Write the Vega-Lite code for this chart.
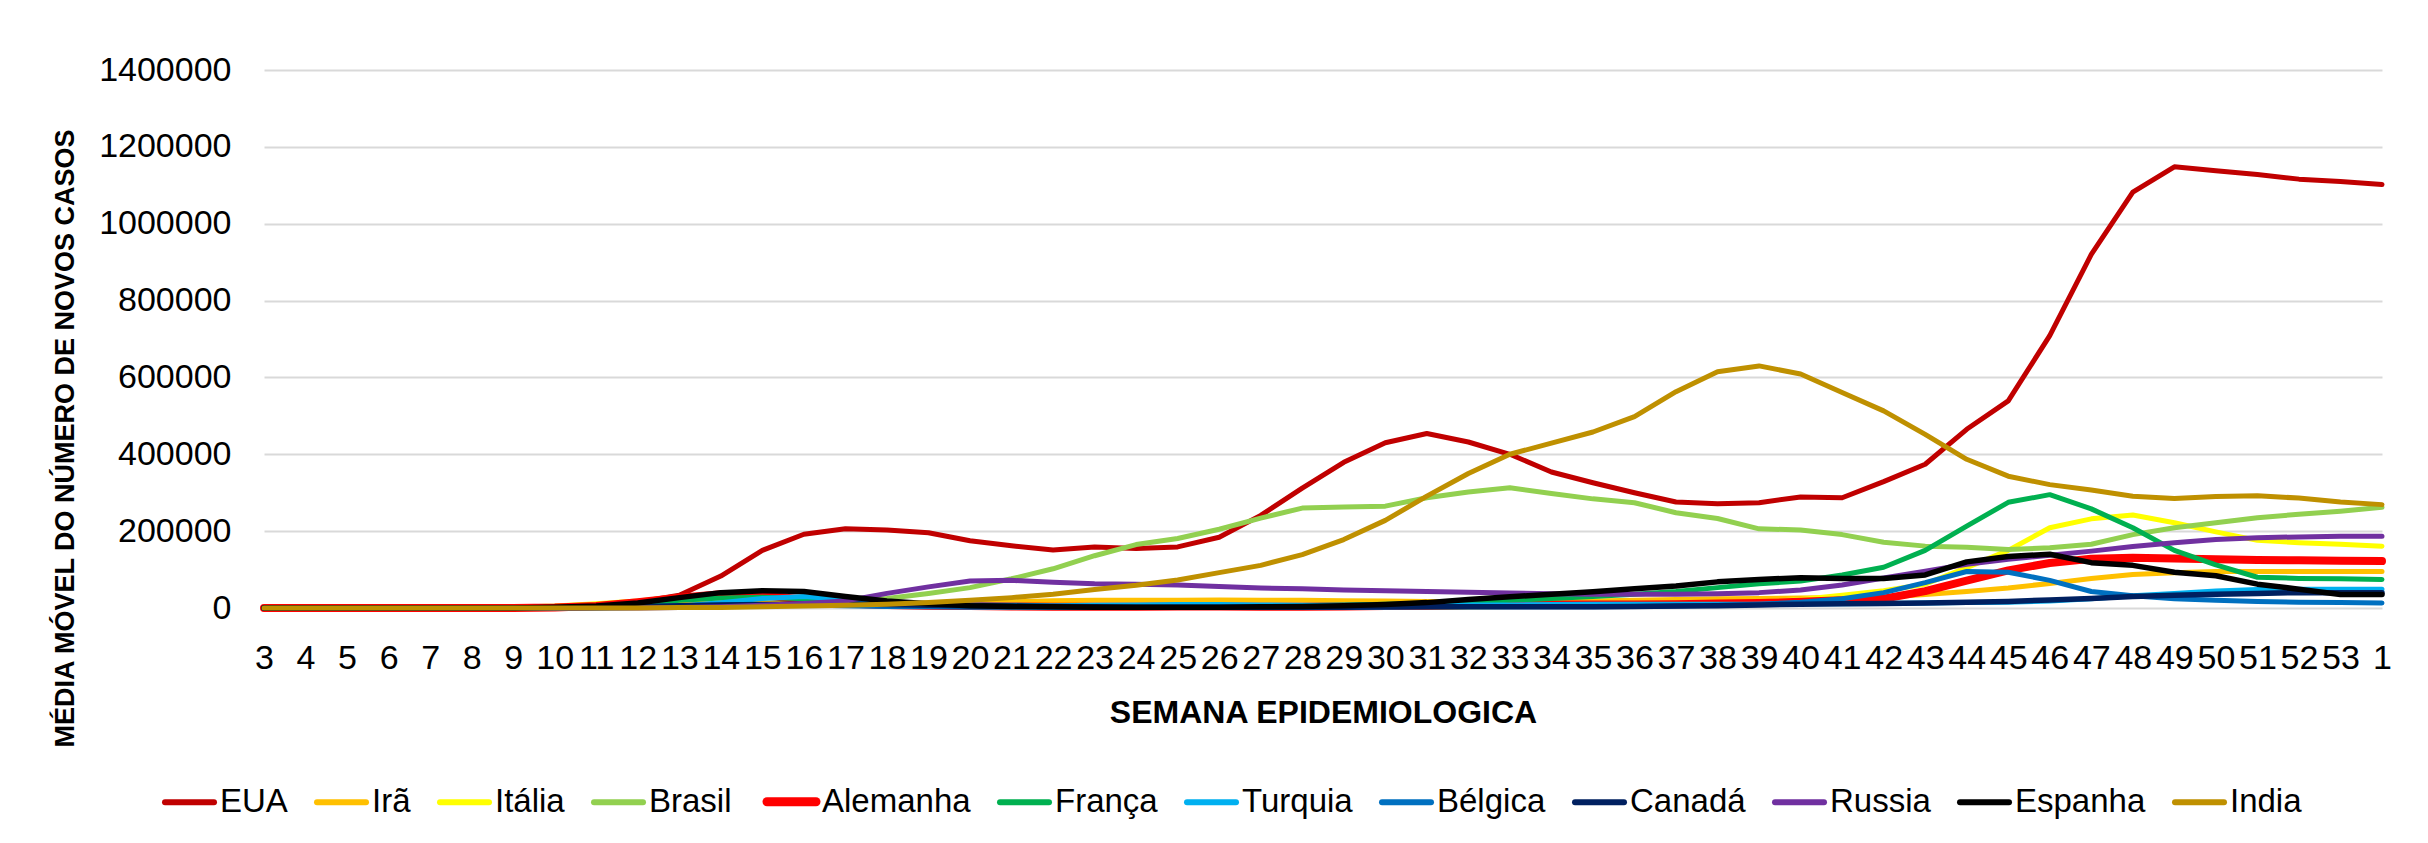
{
"$schema": "https://vega.github.io/schema/vega-lite/v6.json",
"width": 2118, "height": 538,
"autosize": {"type": "none"},
"padding": {"left": 264, "top": 70, "right": 46, "bottom": 235},
"background": "white",
"config": {"view": {"stroke": null}, "font": "Liberation Sans"},
"data": {"values": [
{"semana":"3","pais":"EUA","casos":0},{"semana":"4","pais":"EUA","casos":0},{"semana":"5","pais":"EUA","casos":0},{"semana":"6","pais":"EUA","casos":0},{"semana":"7","pais":"EUA","casos":0},{"semana":"8","pais":"EUA","casos":0},{"semana":"9","pais":"EUA","casos":0},{"semana":"10","pais":"EUA","casos":1000},{"semana":"11","pais":"EUA","casos":5000},{"semana":"12","pais":"EUA","casos":15000},{"semana":"13","pais":"EUA","casos":33000},{"semana":"14","pais":"EUA","casos":83000},{"semana":"15","pais":"EUA","casos":150000},{"semana":"16","pais":"EUA","casos":192000},{"semana":"17","pais":"EUA","casos":206000},{"semana":"18","pais":"EUA","casos":203000},{"semana":"19","pais":"EUA","casos":196000},{"semana":"20","pais":"EUA","casos":175000},{"semana":"21","pais":"EUA","casos":162000},{"semana":"22","pais":"EUA","casos":151000},{"semana":"23","pais":"EUA","casos":159000},{"semana":"24","pais":"EUA","casos":155000},{"semana":"25","pais":"EUA","casos":159000},{"semana":"26","pais":"EUA","casos":184000},{"semana":"27","pais":"EUA","casos":241000},{"semana":"28","pais":"EUA","casos":312000},{"semana":"29","pais":"EUA","casos":379000},{"semana":"30","pais":"EUA","casos":430000},{"semana":"31","pais":"EUA","casos":454000},{"semana":"32","pais":"EUA","casos":432000},{"semana":"33","pais":"EUA","casos":400000},{"semana":"34","pais":"EUA","casos":354000},{"semana":"35","pais":"EUA","casos":326000},{"semana":"36","pais":"EUA","casos":300000},{"semana":"37","pais":"EUA","casos":276000},{"semana":"38","pais":"EUA","casos":271000},{"semana":"39","pais":"EUA","casos":274000},{"semana":"40","pais":"EUA","casos":289000},{"semana":"41","pais":"EUA","casos":287000},{"semana":"42","pais":"EUA","casos":329000},{"semana":"43","pais":"EUA","casos":374000},{"semana":"44","pais":"EUA","casos":465000},{"semana":"45","pais":"EUA","casos":539000},{"semana":"46","pais":"EUA","casos":709000},{"semana":"47","pais":"EUA","casos":920000},{"semana":"48","pais":"EUA","casos":1082000},{"semana":"49","pais":"EUA","casos":1148000},{"semana":"50","pais":"EUA","casos":1138000},{"semana":"51","pais":"EUA","casos":1128000},{"semana":"52","pais":"EUA","casos":1116000},{"semana":"53","pais":"EUA","casos":1110000},{"semana":"1","pais":"EUA","casos":1102000},
{"semana":"3","pais":"Irã","casos":0},{"semana":"4","pais":"Irã","casos":0},{"semana":"5","pais":"Irã","casos":0},{"semana":"6","pais":"Irã","casos":0},{"semana":"7","pais":"Irã","casos":0},{"semana":"8","pais":"Irã","casos":0},{"semana":"9","pais":"Irã","casos":1000},{"semana":"10","pais":"Irã","casos":3000},{"semana":"11","pais":"Irã","casos":8000},{"semana":"12","pais":"Irã","casos":12000},{"semana":"13","pais":"Irã","casos":18000},{"semana":"14","pais":"Irã","casos":20000},{"semana":"15","pais":"Irã","casos":14000},{"semana":"16","pais":"Irã","casos":10000},{"semana":"17","pais":"Irã","casos":8000},{"semana":"18","pais":"Irã","casos":7000},{"semana":"19","pais":"Irã","casos":9000},{"semana":"20","pais":"Irã","casos":13000},{"semana":"21","pais":"Irã","casos":16000},{"semana":"22","pais":"Irã","casos":19000},{"semana":"23","pais":"Irã","casos":20000},{"semana":"24","pais":"Irã","casos":20000},{"semana":"25","pais":"Irã","casos":20000},{"semana":"26","pais":"Irã","casos":21000},{"semana":"27","pais":"Irã","casos":20000},{"semana":"28","pais":"Irã","casos":20000},{"semana":"29","pais":"Irã","casos":19000},{"semana":"30","pais":"Irã","casos":18000},{"semana":"31","pais":"Irã","casos":17000},{"semana":"32","pais":"Irã","casos":16000},{"semana":"33","pais":"Irã","casos":16000},{"semana":"34","pais":"Irã","casos":17000},{"semana":"35","pais":"Irã","casos":18000},{"semana":"36","pais":"Irã","casos":20000},{"semana":"37","pais":"Irã","casos":22000},{"semana":"38","pais":"Irã","casos":24000},{"semana":"39","pais":"Irã","casos":25000},{"semana":"40","pais":"Irã","casos":26000},{"semana":"41","pais":"Irã","casos":27000},{"semana":"42","pais":"Irã","casos":28000},{"semana":"43","pais":"Irã","casos":35000},{"semana":"44","pais":"Irã","casos":43000},{"semana":"45","pais":"Irã","casos":52000},{"semana":"46","pais":"Irã","casos":64000},{"semana":"47","pais":"Irã","casos":77000},{"semana":"48","pais":"Irã","casos":87000},{"semana":"49","pais":"Irã","casos":92000},{"semana":"50","pais":"Irã","casos":95000},{"semana":"51","pais":"Irã","casos":95000},{"semana":"52","pais":"Irã","casos":95000},{"semana":"53","pais":"Irã","casos":95000},{"semana":"1","pais":"Irã","casos":95000},
{"semana":"3","pais":"Itália","casos":0},{"semana":"4","pais":"Itália","casos":0},{"semana":"5","pais":"Itália","casos":0},{"semana":"6","pais":"Itália","casos":0},{"semana":"7","pais":"Itália","casos":0},{"semana":"8","pais":"Itália","casos":0},{"semana":"9","pais":"Itália","casos":2000},{"semana":"10","pais":"Itália","casos":5000},{"semana":"11","pais":"Itália","casos":11000},{"semana":"12","pais":"Itália","casos":18000},{"semana":"13","pais":"Itália","casos":29000},{"semana":"14","pais":"Itália","casos":34000},{"semana":"15","pais":"Itália","casos":30000},{"semana":"16","pais":"Itália","casos":22000},{"semana":"17","pais":"Itália","casos":16000},{"semana":"18","pais":"Itália","casos":10000},{"semana":"19","pais":"Itália","casos":6000},{"semana":"20","pais":"Itália","casos":4000},{"semana":"21","pais":"Itália","casos":3000},{"semana":"22","pais":"Itália","casos":2000},{"semana":"23","pais":"Itália","casos":2000},{"semana":"24","pais":"Itália","casos":2000},{"semana":"25","pais":"Itália","casos":2000},{"semana":"26","pais":"Itália","casos":1000},{"semana":"27","pais":"Itália","casos":1000},{"semana":"28","pais":"Itália","casos":1000},{"semana":"29","pais":"Itália","casos":2000},{"semana":"30","pais":"Itália","casos":2000},{"semana":"31","pais":"Itália","casos":2000},{"semana":"32","pais":"Itália","casos":3000},{"semana":"33","pais":"Itália","casos":4000},{"semana":"34","pais":"Itália","casos":7000},{"semana":"35","pais":"Itália","casos":9000},{"semana":"36","pais":"Itália","casos":10000},{"semana":"37","pais":"Itália","casos":11000},{"semana":"38","pais":"Itália","casos":12000},{"semana":"39","pais":"Itália","casos":15000},{"semana":"40","pais":"Itália","casos":22000},{"semana":"41","pais":"Itália","casos":33000},{"semana":"42","pais":"Itália","casos":45000},{"semana":"43","pais":"Itália","casos":62000},{"semana":"44","pais":"Itália","casos":105000},{"semana":"45","pais":"Itália","casos":150000},{"semana":"46","pais":"Itália","casos":209000},{"semana":"47","pais":"Itália","casos":232000},{"semana":"48","pais":"Itália","casos":242000},{"semana":"49","pais":"Itália","casos":222000},{"semana":"50","pais":"Itália","casos":198000},{"semana":"51","pais":"Itália","casos":176000},{"semana":"52","pais":"Itália","casos":170000},{"semana":"53","pais":"Itália","casos":166000},{"semana":"1","pais":"Itália","casos":161000},
{"semana":"3","pais":"Brasil","casos":0},{"semana":"4","pais":"Brasil","casos":0},{"semana":"5","pais":"Brasil","casos":0},{"semana":"6","pais":"Brasil","casos":0},{"semana":"7","pais":"Brasil","casos":0},{"semana":"8","pais":"Brasil","casos":0},{"semana":"9","pais":"Brasil","casos":0},{"semana":"10","pais":"Brasil","casos":0},{"semana":"11","pais":"Brasil","casos":0},{"semana":"12","pais":"Brasil","casos":1000},{"semana":"13","pais":"Brasil","casos":3000},{"semana":"14","pais":"Brasil","casos":5000},{"semana":"15","pais":"Brasil","casos":8000},{"semana":"16","pais":"Brasil","casos":11000},{"semana":"17","pais":"Brasil","casos":16000},{"semana":"18","pais":"Brasil","casos":25000},{"semana":"19","pais":"Brasil","casos":38000},{"semana":"20","pais":"Brasil","casos":53000},{"semana":"21","pais":"Brasil","casos":76000},{"semana":"22","pais":"Brasil","casos":102000},{"semana":"23","pais":"Brasil","casos":136000},{"semana":"24","pais":"Brasil","casos":165000},{"semana":"25","pais":"Brasil","casos":181000},{"semana":"26","pais":"Brasil","casos":205000},{"semana":"27","pais":"Brasil","casos":234000},{"semana":"28","pais":"Brasil","casos":260000},{"semana":"29","pais":"Brasil","casos":263000},{"semana":"30","pais":"Brasil","casos":265000},{"semana":"31","pais":"Brasil","casos":287000},{"semana":"32","pais":"Brasil","casos":302000},{"semana":"33","pais":"Brasil","casos":313000},{"semana":"34","pais":"Brasil","casos":298000},{"semana":"35","pais":"Brasil","casos":284000},{"semana":"36","pais":"Brasil","casos":274000},{"semana":"37","pais":"Brasil","casos":248000},{"semana":"38","pais":"Brasil","casos":233000},{"semana":"39","pais":"Brasil","casos":206000},{"semana":"40","pais":"Brasil","casos":203000},{"semana":"41","pais":"Brasil","casos":191000},{"semana":"42","pais":"Brasil","casos":171000},{"semana":"43","pais":"Brasil","casos":161000},{"semana":"44","pais":"Brasil","casos":158000},{"semana":"45","pais":"Brasil","casos":152000},{"semana":"46","pais":"Brasil","casos":157000},{"semana":"47","pais":"Brasil","casos":166000},{"semana":"48","pais":"Brasil","casos":191000},{"semana":"49","pais":"Brasil","casos":209000},{"semana":"50","pais":"Brasil","casos":222000},{"semana":"51","pais":"Brasil","casos":235000},{"semana":"52","pais":"Brasil","casos":244000},{"semana":"53","pais":"Brasil","casos":252000},{"semana":"1","pais":"Brasil","casos":262000},
{"semana":"3","pais":"Alemanha","casos":0},{"semana":"4","pais":"Alemanha","casos":0},{"semana":"5","pais":"Alemanha","casos":0},{"semana":"6","pais":"Alemanha","casos":0},{"semana":"7","pais":"Alemanha","casos":0},{"semana":"8","pais":"Alemanha","casos":0},{"semana":"9","pais":"Alemanha","casos":0},{"semana":"10","pais":"Alemanha","casos":1000},{"semana":"11","pais":"Alemanha","casos":5000},{"semana":"12","pais":"Alemanha","casos":15000},{"semana":"13","pais":"Alemanha","casos":27000},{"semana":"14","pais":"Alemanha","casos":36000},{"semana":"15","pais":"Alemanha","casos":33000},{"semana":"16","pais":"Alemanha","casos":22000},{"semana":"17","pais":"Alemanha","casos":12000},{"semana":"18","pais":"Alemanha","casos":8000},{"semana":"19","pais":"Alemanha","casos":6000},{"semana":"20","pais":"Alemanha","casos":5000},{"semana":"21","pais":"Alemanha","casos":4000},{"semana":"22","pais":"Alemanha","casos":3000},{"semana":"23","pais":"Alemanha","casos":3000},{"semana":"24","pais":"Alemanha","casos":3000},{"semana":"25","pais":"Alemanha","casos":4000},{"semana":"26","pais":"Alemanha","casos":4000},{"semana":"27","pais":"Alemanha","casos":3000},{"semana":"28","pais":"Alemanha","casos":3000},{"semana":"29","pais":"Alemanha","casos":4000},{"semana":"30","pais":"Alemanha","casos":5000},{"semana":"31","pais":"Alemanha","casos":6000},{"semana":"32","pais":"Alemanha","casos":8000},{"semana":"33","pais":"Alemanha","casos":9000},{"semana":"34","pais":"Alemanha","casos":9000},{"semana":"35","pais":"Alemanha","casos":9000},{"semana":"36","pais":"Alemanha","casos":9000},{"semana":"37","pais":"Alemanha","casos":10000},{"semana":"38","pais":"Alemanha","casos":12000},{"semana":"39","pais":"Alemanha","casos":13000},{"semana":"40","pais":"Alemanha","casos":16000},{"semana":"41","pais":"Alemanha","casos":20000},{"semana":"42","pais":"Alemanha","casos":24000},{"semana":"43","pais":"Alemanha","casos":44000},{"semana":"44","pais":"Alemanha","casos":71000},{"semana":"45","pais":"Alemanha","casos":98000},{"semana":"46","pais":"Alemanha","casos":117000},{"semana":"47","pais":"Alemanha","casos":128000},{"semana":"48","pais":"Alemanha","casos":131000},{"semana":"49","pais":"Alemanha","casos":129000},{"semana":"50","pais":"Alemanha","casos":127000},{"semana":"51","pais":"Alemanha","casos":125000},{"semana":"52","pais":"Alemanha","casos":124000},{"semana":"53","pais":"Alemanha","casos":123000},{"semana":"1","pais":"Alemanha","casos":122000},
{"semana":"3","pais":"França","casos":0},{"semana":"4","pais":"França","casos":0},{"semana":"5","pais":"França","casos":0},{"semana":"6","pais":"França","casos":0},{"semana":"7","pais":"França","casos":0},{"semana":"8","pais":"França","casos":0},{"semana":"9","pais":"França","casos":0},{"semana":"10","pais":"França","casos":1000},{"semana":"11","pais":"França","casos":3000},{"semana":"12","pais":"França","casos":10000},{"semana":"13","pais":"França","casos":20000},{"semana":"14","pais":"França","casos":26000},{"semana":"15","pais":"França","casos":28000},{"semana":"16","pais":"França","casos":24000},{"semana":"17","pais":"França","casos":12000},{"semana":"18","pais":"França","casos":7000},{"semana":"19","pais":"França","casos":5000},{"semana":"20","pais":"França","casos":4000},{"semana":"21","pais":"França","casos":3000},{"semana":"22","pais":"França","casos":3000},{"semana":"23","pais":"França","casos":3000},{"semana":"24","pais":"França","casos":3000},{"semana":"25","pais":"França","casos":3000},{"semana":"26","pais":"França","casos":4000},{"semana":"27","pais":"França","casos":5000},{"semana":"28","pais":"França","casos":6000},{"semana":"29","pais":"França","casos":8000},{"semana":"30","pais":"França","casos":10000},{"semana":"31","pais":"França","casos":12000},{"semana":"32","pais":"França","casos":16000},{"semana":"33","pais":"França","casos":20000},{"semana":"34","pais":"França","casos":25000},{"semana":"35","pais":"França","casos":30000},{"semana":"36","pais":"França","casos":36000},{"semana":"37","pais":"França","casos":43000},{"semana":"38","pais":"França","casos":53000},{"semana":"39","pais":"França","casos":63000},{"semana":"40","pais":"França","casos":70000},{"semana":"41","pais":"França","casos":86000},{"semana":"42","pais":"França","casos":106000},{"semana":"43","pais":"França","casos":150000},{"semana":"44","pais":"França","casos":213000},{"semana":"45","pais":"França","casos":275000},{"semana":"46","pais":"França","casos":295000},{"semana":"47","pais":"França","casos":258000},{"semana":"48","pais":"França","casos":209000},{"semana":"49","pais":"França","casos":150000},{"semana":"50","pais":"França","casos":112000},{"semana":"51","pais":"França","casos":80000},{"semana":"52","pais":"França","casos":77000},{"semana":"53","pais":"França","casos":76000},{"semana":"1","pais":"França","casos":74000},
{"semana":"3","pais":"Turquia","casos":0},{"semana":"4","pais":"Turquia","casos":0},{"semana":"5","pais":"Turquia","casos":0},{"semana":"6","pais":"Turquia","casos":0},{"semana":"7","pais":"Turquia","casos":0},{"semana":"8","pais":"Turquia","casos":0},{"semana":"9","pais":"Turquia","casos":0},{"semana":"10","pais":"Turquia","casos":0},{"semana":"11","pais":"Turquia","casos":0},{"semana":"12","pais":"Turquia","casos":1000},{"semana":"13","pais":"Turquia","casos":5000},{"semana":"14","pais":"Turquia","casos":14000},{"semana":"15","pais":"Turquia","casos":25000},{"semana":"16","pais":"Turquia","casos":30000},{"semana":"17","pais":"Turquia","casos":22000},{"semana":"18","pais":"Turquia","casos":14000},{"semana":"19","pais":"Turquia","casos":11000},{"semana":"20","pais":"Turquia","casos":8000},{"semana":"21","pais":"Turquia","casos":7000},{"semana":"22","pais":"Turquia","casos":6000},{"semana":"23","pais":"Turquia","casos":7000},{"semana":"24","pais":"Turquia","casos":8000},{"semana":"25","pais":"Turquia","casos":9000},{"semana":"26","pais":"Turquia","casos":9000},{"semana":"27","pais":"Turquia","casos":8000},{"semana":"28","pais":"Turquia","casos":7000},{"semana":"29","pais":"Turquia","casos":7000},{"semana":"30","pais":"Turquia","casos":7000},{"semana":"31","pais":"Turquia","casos":7000},{"semana":"32","pais":"Turquia","casos":8000},{"semana":"33","pais":"Turquia","casos":8000},{"semana":"34","pais":"Turquia","casos":9000},{"semana":"35","pais":"Turquia","casos":10000},{"semana":"36","pais":"Turquia","casos":10000},{"semana":"37","pais":"Turquia","casos":10000},{"semana":"38","pais":"Turquia","casos":10000},{"semana":"39","pais":"Turquia","casos":10000},{"semana":"40","pais":"Turquia","casos":11000},{"semana":"41","pais":"Turquia","casos":11000},{"semana":"42","pais":"Turquia","casos":12000},{"semana":"43","pais":"Turquia","casos":13000},{"semana":"44","pais":"Turquia","casos":14000},{"semana":"45","pais":"Turquia","casos":15000},{"semana":"46","pais":"Turquia","casos":18000},{"semana":"47","pais":"Turquia","casos":24000},{"semana":"48","pais":"Turquia","casos":32000},{"semana":"49","pais":"Turquia","casos":38000},{"semana":"50","pais":"Turquia","casos":44000},{"semana":"51","pais":"Turquia","casos":48000},{"semana":"52","pais":"Turquia","casos":49000},{"semana":"53","pais":"Turquia","casos":49000},{"semana":"1","pais":"Turquia","casos":49000},
{"semana":"3","pais":"Bélgica","casos":0},{"semana":"4","pais":"Bélgica","casos":0},{"semana":"5","pais":"Bélgica","casos":0},{"semana":"6","pais":"Bélgica","casos":0},{"semana":"7","pais":"Bélgica","casos":0},{"semana":"8","pais":"Bélgica","casos":0},{"semana":"9","pais":"Bélgica","casos":0},{"semana":"10","pais":"Bélgica","casos":0},{"semana":"11","pais":"Bélgica","casos":1000},{"semana":"12","pais":"Bélgica","casos":3000},{"semana":"13","pais":"Bélgica","casos":6000},{"semana":"14","pais":"Bélgica","casos":8000},{"semana":"15","pais":"Bélgica","casos":9000},{"semana":"16","pais":"Bélgica","casos":8000},{"semana":"17","pais":"Bélgica","casos":6000},{"semana":"18","pais":"Bélgica","casos":4000},{"semana":"19","pais":"Bélgica","casos":3000},{"semana":"20","pais":"Bélgica","casos":2000},{"semana":"21","pais":"Bélgica","casos":2000},{"semana":"22","pais":"Bélgica","casos":1000},{"semana":"23","pais":"Bélgica","casos":1000},{"semana":"24","pais":"Bélgica","casos":1000},{"semana":"25","pais":"Bélgica","casos":1000},{"semana":"26","pais":"Bélgica","casos":1000},{"semana":"27","pais":"Bélgica","casos":1000},{"semana":"28","pais":"Bélgica","casos":1000},{"semana":"29","pais":"Bélgica","casos":1000},{"semana":"30","pais":"Bélgica","casos":2000},{"semana":"31","pais":"Bélgica","casos":3000},{"semana":"32","pais":"Bélgica","casos":3000},{"semana":"33","pais":"Bélgica","casos":3000},{"semana":"34","pais":"Bélgica","casos":3000},{"semana":"35","pais":"Bélgica","casos":3000},{"semana":"36","pais":"Bélgica","casos":4000},{"semana":"37","pais":"Bélgica","casos":5000},{"semana":"38","pais":"Bélgica","casos":7000},{"semana":"39","pais":"Bélgica","casos":10000},{"semana":"40","pais":"Bélgica","casos":15000},{"semana":"41","pais":"Bélgica","casos":24000},{"semana":"42","pais":"Bélgica","casos":40000},{"semana":"43","pais":"Bélgica","casos":66000},{"semana":"44","pais":"Bélgica","casos":95000},{"semana":"45","pais":"Bélgica","casos":93000},{"semana":"46","pais":"Bélgica","casos":72000},{"semana":"47","pais":"Bélgica","casos":43000},{"semana":"48","pais":"Bélgica","casos":32000},{"semana":"49","pais":"Bélgica","casos":24000},{"semana":"50","pais":"Bélgica","casos":20000},{"semana":"51","pais":"Bélgica","casos":17000},{"semana":"52","pais":"Bélgica","casos":15000},{"semana":"53","pais":"Bélgica","casos":14000},{"semana":"1","pais":"Bélgica","casos":13000},
{"semana":"3","pais":"Canadá","casos":0},{"semana":"4","pais":"Canadá","casos":0},{"semana":"5","pais":"Canadá","casos":0},{"semana":"6","pais":"Canadá","casos":0},{"semana":"7","pais":"Canadá","casos":0},{"semana":"8","pais":"Canadá","casos":0},{"semana":"9","pais":"Canadá","casos":0},{"semana":"10","pais":"Canadá","casos":0},{"semana":"11","pais":"Canadá","casos":1000},{"semana":"12","pais":"Canadá","casos":3000},{"semana":"13","pais":"Canadá","casos":6000},{"semana":"14","pais":"Canadá","casos":8000},{"semana":"15","pais":"Canadá","casos":9000},{"semana":"16","pais":"Canadá","casos":10000},{"semana":"17","pais":"Canadá","casos":11000},{"semana":"18","pais":"Canadá","casos":9000},{"semana":"19","pais":"Canadá","casos":7000},{"semana":"20","pais":"Canadá","casos":6000},{"semana":"21","pais":"Canadá","casos":5000},{"semana":"22","pais":"Canadá","casos":4000},{"semana":"23","pais":"Canadá","casos":3000},{"semana":"24","pais":"Canadá","casos":2000},{"semana":"25","pais":"Canadá","casos":2000},{"semana":"26","pais":"Canadá","casos":2000},{"semana":"27","pais":"Canadá","casos":2000},{"semana":"28","pais":"Canadá","casos":2000},{"semana":"29","pais":"Canadá","casos":2000},{"semana":"30","pais":"Canadá","casos":3000},{"semana":"31","pais":"Canadá","casos":3000},{"semana":"32","pais":"Canadá","casos":3000},{"semana":"33","pais":"Canadá","casos":3000},{"semana":"34","pais":"Canadá","casos":3000},{"semana":"35","pais":"Canadá","casos":3000},{"semana":"36","pais":"Canadá","casos":4000},{"semana":"37","pais":"Canadá","casos":5000},{"semana":"38","pais":"Canadá","casos":6000},{"semana":"39","pais":"Canadá","casos":8000},{"semana":"40","pais":"Canadá","casos":10000},{"semana":"41","pais":"Canadá","casos":11000},{"semana":"42","pais":"Canadá","casos":12000},{"semana":"43","pais":"Canadá","casos":13000},{"semana":"44","pais":"Canadá","casos":15000},{"semana":"45","pais":"Canadá","casos":17000},{"semana":"46","pais":"Canadá","casos":21000},{"semana":"47","pais":"Canadá","casos":25000},{"semana":"48","pais":"Canadá","casos":30000},{"semana":"49","pais":"Canadá","casos":33000},{"semana":"50","pais":"Canadá","casos":36000},{"semana":"51","pais":"Canadá","casos":38000},{"semana":"52","pais":"Canadá","casos":40000},{"semana":"53","pais":"Canadá","casos":40000},{"semana":"1","pais":"Canadá","casos":40000},
{"semana":"3","pais":"Russia","casos":0},{"semana":"4","pais":"Russia","casos":0},{"semana":"5","pais":"Russia","casos":0},{"semana":"6","pais":"Russia","casos":0},{"semana":"7","pais":"Russia","casos":0},{"semana":"8","pais":"Russia","casos":0},{"semana":"9","pais":"Russia","casos":0},{"semana":"10","pais":"Russia","casos":0},{"semana":"11","pais":"Russia","casos":0},{"semana":"12","pais":"Russia","casos":0},{"semana":"13","pais":"Russia","casos":1000},{"semana":"14","pais":"Russia","casos":3000},{"semana":"15","pais":"Russia","casos":7000},{"semana":"16","pais":"Russia","casos":12000},{"semana":"17","pais":"Russia","casos":18000},{"semana":"18","pais":"Russia","casos":38000},{"semana":"19","pais":"Russia","casos":55000},{"semana":"20","pais":"Russia","casos":70000},{"semana":"21","pais":"Russia","casos":72000},{"semana":"22","pais":"Russia","casos":67000},{"semana":"23","pais":"Russia","casos":63000},{"semana":"24","pais":"Russia","casos":62000},{"semana":"25","pais":"Russia","casos":60000},{"semana":"26","pais":"Russia","casos":56000},{"semana":"27","pais":"Russia","casos":52000},{"semana":"28","pais":"Russia","casos":50000},{"semana":"29","pais":"Russia","casos":47000},{"semana":"30","pais":"Russia","casos":45000},{"semana":"31","pais":"Russia","casos":43000},{"semana":"32","pais":"Russia","casos":41000},{"semana":"33","pais":"Russia","casos":39000},{"semana":"34","pais":"Russia","casos":37000},{"semana":"35","pais":"Russia","casos":36000},{"semana":"36","pais":"Russia","casos":36000},{"semana":"37","pais":"Russia","casos":36000},{"semana":"38","pais":"Russia","casos":37000},{"semana":"39","pais":"Russia","casos":40000},{"semana":"40","pais":"Russia","casos":47000},{"semana":"41","pais":"Russia","casos":60000},{"semana":"42","pais":"Russia","casos":78000},{"semana":"43","pais":"Russia","casos":96000},{"semana":"44","pais":"Russia","casos":114000},{"semana":"45","pais":"Russia","casos":127000},{"semana":"46","pais":"Russia","casos":137000},{"semana":"47","pais":"Russia","casos":148000},{"semana":"48","pais":"Russia","casos":160000},{"semana":"49","pais":"Russia","casos":170000},{"semana":"50","pais":"Russia","casos":178000},{"semana":"51","pais":"Russia","casos":183000},{"semana":"52","pais":"Russia","casos":185000},{"semana":"53","pais":"Russia","casos":187000},{"semana":"1","pais":"Russia","casos":187000},
{"semana":"3","pais":"Espanha","casos":0},{"semana":"4","pais":"Espanha","casos":0},{"semana":"5","pais":"Espanha","casos":0},{"semana":"6","pais":"Espanha","casos":0},{"semana":"7","pais":"Espanha","casos":0},{"semana":"8","pais":"Espanha","casos":0},{"semana":"9","pais":"Espanha","casos":0},{"semana":"10","pais":"Espanha","casos":2000},{"semana":"11","pais":"Espanha","casos":5000},{"semana":"12","pais":"Espanha","casos":13000},{"semana":"13","pais":"Espanha","casos":27000},{"semana":"14","pais":"Espanha","casos":40000},{"semana":"15","pais":"Espanha","casos":45000},{"semana":"16","pais":"Espanha","casos":43000},{"semana":"17","pais":"Espanha","casos":30000},{"semana":"18","pais":"Espanha","casos":18000},{"semana":"19","pais":"Espanha","casos":11000},{"semana":"20","pais":"Espanha","casos":6000},{"semana":"21","pais":"Espanha","casos":4000},{"semana":"22","pais":"Espanha","casos":3000},{"semana":"23","pais":"Espanha","casos":2000},{"semana":"24","pais":"Espanha","casos":2000},{"semana":"25","pais":"Espanha","casos":2000},{"semana":"26","pais":"Espanha","casos":2000},{"semana":"27","pais":"Espanha","casos":3000},{"semana":"28","pais":"Espanha","casos":4000},{"semana":"29","pais":"Espanha","casos":6000},{"semana":"30","pais":"Espanha","casos":9000},{"semana":"31","pais":"Espanha","casos":14000},{"semana":"32","pais":"Espanha","casos":22000},{"semana":"33","pais":"Espanha","casos":29000},{"semana":"34","pais":"Espanha","casos":36000},{"semana":"35","pais":"Espanha","casos":42000},{"semana":"36","pais":"Espanha","casos":50000},{"semana":"37","pais":"Espanha","casos":57000},{"semana":"38","pais":"Espanha","casos":68000},{"semana":"39","pais":"Espanha","casos":74000},{"semana":"40","pais":"Espanha","casos":79000},{"semana":"41","pais":"Espanha","casos":77000},{"semana":"42","pais":"Espanha","casos":77000},{"semana":"43","pais":"Espanha","casos":86000},{"semana":"44","pais":"Espanha","casos":120000},{"semana":"45","pais":"Espanha","casos":134000},{"semana":"46","pais":"Espanha","casos":140000},{"semana":"47","pais":"Espanha","casos":118000},{"semana":"48","pais":"Espanha","casos":111000},{"semana":"49","pais":"Espanha","casos":93000},{"semana":"50","pais":"Espanha","casos":84000},{"semana":"51","pais":"Espanha","casos":62000},{"semana":"52","pais":"Espanha","casos":49000},{"semana":"53","pais":"Espanha","casos":35000},{"semana":"1","pais":"Espanha","casos":35000},
{"semana":"3","pais":"India","casos":0},{"semana":"4","pais":"India","casos":0},{"semana":"5","pais":"India","casos":0},{"semana":"6","pais":"India","casos":0},{"semana":"7","pais":"India","casos":0},{"semana":"8","pais":"India","casos":0},{"semana":"9","pais":"India","casos":0},{"semana":"10","pais":"India","casos":0},{"semana":"11","pais":"India","casos":0},{"semana":"12","pais":"India","casos":0},{"semana":"13","pais":"India","casos":1000},{"semana":"14","pais":"India","casos":1000},{"semana":"15","pais":"India","casos":3000},{"semana":"16","pais":"India","casos":5000},{"semana":"17","pais":"India","casos":7000},{"semana":"18","pais":"India","casos":10000},{"semana":"19","pais":"India","casos":14000},{"semana":"20","pais":"India","casos":20000},{"semana":"21","pais":"India","casos":27000},{"semana":"22","pais":"India","casos":36000},{"semana":"23","pais":"India","casos":48000},{"semana":"24","pais":"India","casos":59000},{"semana":"25","pais":"India","casos":73000},{"semana":"26","pais":"India","casos":92000},{"semana":"27","pais":"India","casos":111000},{"semana":"28","pais":"India","casos":139000},{"semana":"29","pais":"India","casos":178000},{"semana":"30","pais":"India","casos":228000},{"semana":"31","pais":"India","casos":291000},{"semana":"32","pais":"India","casos":350000},{"semana":"33","pais":"India","casos":400000},{"semana":"34","pais":"India","casos":429000},{"semana":"35","pais":"India","casos":458000},{"semana":"36","pais":"India","casos":498000},{"semana":"37","pais":"India","casos":563000},{"semana":"38","pais":"India","casos":615000},{"semana":"39","pais":"India","casos":630000},{"semana":"40","pais":"India","casos":609000},{"semana":"41","pais":"India","casos":561000},{"semana":"42","pais":"India","casos":513000},{"semana":"43","pais":"India","casos":452000},{"semana":"44","pais":"India","casos":387000},{"semana":"45","pais":"India","casos":343000},{"semana":"46","pais":"India","casos":321000},{"semana":"47","pais":"India","casos":307000},{"semana":"48","pais":"India","casos":291000},{"semana":"49","pais":"India","casos":285000},{"semana":"50","pais":"India","casos":290000},{"semana":"51","pais":"India","casos":292000},{"semana":"52","pais":"India","casos":286000},{"semana":"53","pais":"India","casos":276000},{"semana":"1","pais":"India","casos":269000}
]},
"mark": {"type": "line", "strokeCap": "round", "strokeJoin": "round"},
"encoding": {
  "x": {"field": "semana", "type": "ordinal", "sort": null,
    "scale": {"type": "point", "padding": 0},
    "axis": {"title": "SEMANA EPIDEMIOLOGICA", "titleFont": "Liberation Sans", "titleFontSize": 32, "titleFontWeight": "bold", "titleColor": "#000000",
      "titleX": 1059, "titleY": 114, "titleAlign": "center", "titleBaseline": "alphabetic", "titleAnchor": null,
      "labelAngle": 0, "labelFont": "Liberation Sans", "labelFontSize": 34, "labelColor": "#000000", "labelPadding": 33,
      "labelOverlap": false, "labelFlush": false, "labelBound": false, "ticks": false, "domain": false, "grid": false}},
  "y": {"field": "casos", "type": "quantitative",
    "scale": {"domain": [0, 1400000], "nice": false, "zero": true},
    "axis": {"title": "MÉDIA MÓVEL DO NÚMERO DE NOVOS CASOS", "titleFont": "Liberation Sans", "titleFontSize": 27, "titleFontWeight": "bold", "titleColor": "#000000",
      "titleAngle": 270, "titleX": -191, "titleY": 368, "titleAlign": "center", "titleBaseline": "alphabetic",
      "values": [0, 200000, 400000, 600000, 800000, 1000000, 1200000, 1400000], "format": "d",
      "labelFont": "Liberation Sans", "labelFontSize": 34, "labelColor": "#000000", "labelPadding": 33,
      "ticks": false, "domain": false, "grid": true, "gridColor": "#d9d9d9", "gridWidth": 2}},
  "color": {"field": "pais", "type": "nominal",
    "scale": {"domain": ["EUA", "Irã", "Itália", "Brasil", "Alemanha", "França", "Turquia", "Bélgica", "Canadá", "Russia", "Espanha", "India"],
      "range": ["#C00000", "#FFC000", "#FFFF00", "#92D050", "#FF0000", "#00B050", "#00B0F0", "#0070C0", "#002060", "#7030A0", "#000000", "#BF9000"]},
    "legend": {"title": null, "orient": "none", "legendX": -102, "legendY": 704, "direction": "horizontal", "columns": 12,
      "symbolType": "stroke", "symbolSize": 2401, "symbolStrokeWidth": 6,
      "labelFont": "Liberation Sans", "labelFontSize": 33, "labelColor": "#000000", "labelOffset": 3, "labelLimit": 400,
      "columnPadding": 17, "padding": 0,
      "encode": {"symbols": {"update": {"strokeWidth": {"signal": "(datum.value === 'Alemanha' ? 9 : 6)"}, "strokeCap": {"value": "round"}}}}}},
  "strokeWidth": {"condition": [
      {"test": "datum.pais === 'Alemanha'", "value": 8},
      {"test": "datum.pais === 'Espanha' || datum.pais === 'Canadá'", "value": 5.5}],
    "value": 5},
  "order": {"value": null}
}
}
